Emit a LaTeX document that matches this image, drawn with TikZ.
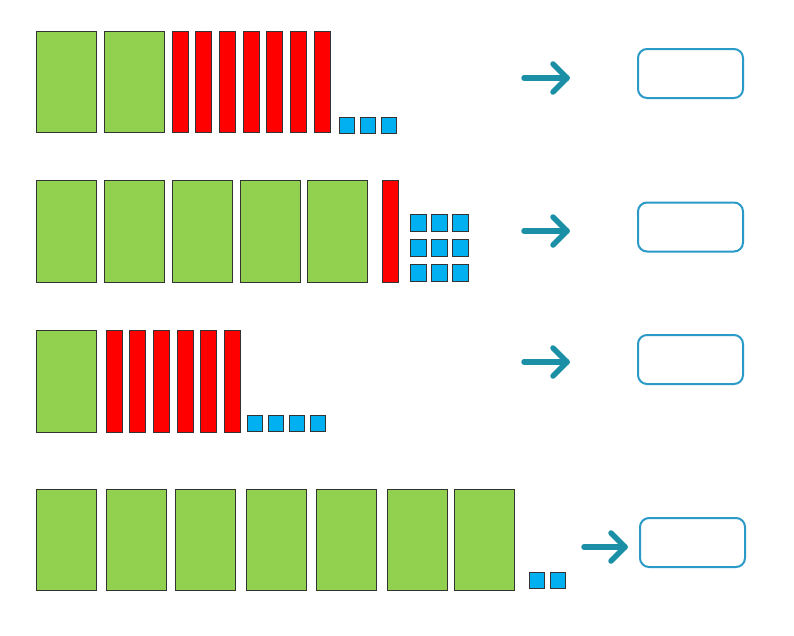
\documentclass[tikz,border=0pt]{standalone}
\definecolor{gfill}{HTML}{92D050}
\definecolor{rfill}{HTML}{FF0000}
\definecolor{bfill}{HTML}{00B0F0}
\definecolor{edge}{HTML}{333333}
\definecolor{arrc}{HTML}{1A8FA5}
\definecolor{boxc}{HTML}{2B9AC6}
\tikzset{
  blk/.style={draw=edge, line width=0.9pt, inner sep=0pt, outer sep=0pt, anchor=north west},
  gblk/.style={blk, fill=gfill, minimum width=60pt, minimum height=101pt},
  rblk/.style={blk, fill=rfill, minimum width=16pt, minimum height=101pt},
  bblk/.style={blk, fill=bfill, minimum width=15pt, minimum height=16pt},
  arr/.style={draw=arrc, line width=5.5pt, line cap=round, line join=round},
  ansbox/.style={draw=boxc, line width=2pt, rounded corners=9pt, minimum width=105pt, minimum height=49pt, inner sep=0pt}
}
\begin{document}
\begin{tikzpicture}[x=1pt,y=-1pt]
\useasboundingbox (0,0) rectangle (794,635);
% Row 1
\foreach \i/\x in {1/36,2/104} \node[gblk] (ga\i) at (\x,31) {};
\foreach \i in {0,...,6} \node[rblk] (ra\i) at ({172+23.7*\i},31) {};
\foreach \i in {0,1,2} \node[bblk] (ba\i) at ({339+21*\i},117) {};
% Row 2
\foreach \i/\x in {1/36,2/104,3/172,4/240,5/307} \node[gblk, minimum height=102pt] (gb\i) at (\x,180) {};
\node[rblk, minimum height=102pt] (rb0) at (382,180) {};
\foreach \i in {0,1,2} \foreach \j in {0,1,2} \node[bblk, minimum width=16pt, minimum height=17pt] (bb\i\j) at ({410+21*\i},{214.5+24.8*\j}) {};
% Row 3
\node[gblk, minimum height=102pt] (gc1) at (36,330) {};
\foreach \i in {0,...,5} \node[rblk, minimum height=102pt] (rc\i) at ({106+23.7*\i},330) {};
\foreach \i in {0,...,3} \node[bblk] (bc\i) at ({247+21*\i},415) {};
% Row 4
\foreach \i/\x in {1/36,2/106,3/175,4/246,5/316,6/387,7/454} \node[gblk] (gd\i) at (\x,489) {};
\foreach \i/\x in {0/529,1/550} \node[bblk] (bd\i) at (\x,572) {};
% Arrows
\coordinate (a1s) at (524,78);  \coordinate (a1e) at (567,78);
\coordinate (a2s) at (524,231); \coordinate (a2e) at (567,231);
\coordinate (a3s) at (524,362); \coordinate (a3e) at (567,362);
\coordinate (a4s) at (584,547); \coordinate (a4e) at (625,547);
\foreach \k in {1,2,3,4} {
  \draw[arr] (a\k s) -- (a\k e);
  \draw[arr] ([shift={(-14,-14)}]a\k e) -- (a\k e) -- ([shift={(-14,14)}]a\k e);
}
% Answer boxes
\node[ansbox] (box1) at (690.5,73.5) {};
\node[ansbox] (box2) at (690.5,227) {};
\node[ansbox] (box3) at (690.5,359.5) {};
\node[ansbox] (box4) at (692.5,542.5) {};
\end{tikzpicture}
\end{document}
